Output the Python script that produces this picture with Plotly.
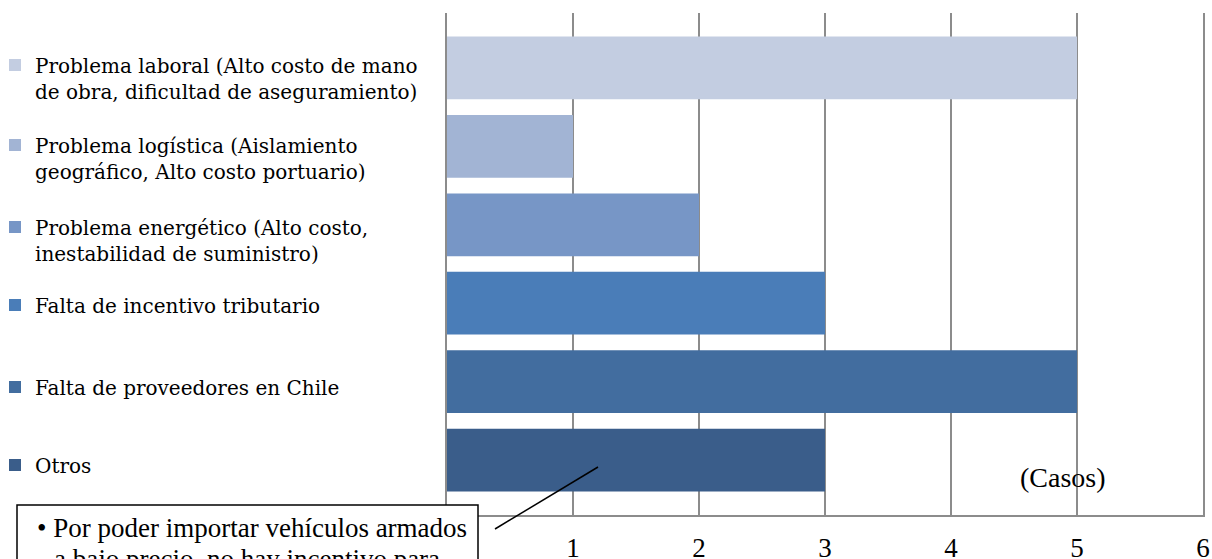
import plotly.graph_objects as go

# ---- data ----
categories = [
    "Problema laboral (Alto costo de mano<br>de obra, dificultad de aseguramiento)",
    "Problema logística (Aislamiento<br>geográfico, Alto costo portuario)",
    "Problema energético (Alto costo,<br>inestabilidad de suministro)",
    "Falta de incentivo tributario",
    "Falta de proveedores en Chile",
    "Otros",
]
values = [5, 1, 2, 3, 5, 3]
colors = ["#C3CDE1", "#A2B4D4", "#7796C6", "#4A7DB8", "#426D9F", "#3A5D8A"]
tick_vals = [0, 1, 2, 3, 4, 5, 6]
tick_text = ["", "1", "2", "3", "4", "5", "6"]
unit_label = "(Casos)"
note_line1 = "• Por poder importar vehículos armados"
note_line2 = "a bajo precio, no hay incentivo para"

W, H = 1212, 559
ML, MR, MT, MB = 447, 9, 13, 44
legend_tops = [45.5, 125.5, 207.5, 285.5, 367.5, 445.5]  # pixel tops of legend entries
legend_left = -5  # pixel left of legend boxes


def px_x(p):
    return (p - ML) / (W - ML - MR)


def px_y(p):
    return (H - MB - p) / (H - MT - MB)


fig = go.Figure()
legend_ids = ["legend"] + [f"legend{i}" for i in range(2, len(categories) + 1)]
for name, val, col, lid in zip(categories, values, colors, legend_ids):
    fig.add_trace(go.Bar(
        x=[val], y=[name], orientation="h", name=name,
        marker=dict(color=col, line=dict(width=0)),
        width=0.8, legend=lid, hoverinfo="x+name",
    ))

layout_legends = {}
for lid, top in zip(legend_ids, legend_tops):
    layout_legends[lid] = dict(
        x=px_x(legend_left), xref="paper", xanchor="left",
        y=1 - top / H, yref="container", yanchor="top",
        valign="top", bgcolor="rgba(0,0,0,0)", borderwidth=0,
        font=dict(family="DejaVu Serif", size=20, color="#000000"),
        itemclick=False, itemdoubleclick=False,
    )

grid_col = "#8c8c8c"
fig.update_layout(
    width=W, height=H,
    margin=dict(l=ML, r=MR, t=MT, b=MB, autoexpand=False),
    plot_bgcolor="white", paper_bgcolor="white",
    barmode="overlay", showlegend=True,
    xaxis=dict(
        range=[0, 6], tickvals=tick_vals, ticktext=tick_text,
        showgrid=True, gridcolor=grid_col, gridwidth=1.5,
        zeroline=False, showline=True, linecolor=grid_col, linewidth=1.5,
        ticks="", ticklabelstandoff=8,
        tickfont=dict(family="Liberation Serif", size=27, color="#000000"),
        fixedrange=True,
    ),
    yaxis=dict(
        type="category", categoryorder="array", categoryarray=categories[::-1],
        range=[-0.7, 5.7], showticklabels=False, showgrid=False,
        zeroline=False, showline=True, mirror=True,
        linecolor=grid_col, linewidth=1.5, ticks="", fixedrange=True,
    ),
    **layout_legends,
)

# unit label inside plot
fig.add_annotation(
    text=unit_label, xref="paper", yref="paper", x=px_x(1063), y=px_y(477),
    showarrow=False, xanchor="center", yanchor="middle",
    font=dict(family="Liberation Serif", size=28, color="#000000"),
)

# callout box with pointer
fig.add_shape(
    type="rect", xref="paper", yref="paper",
    x0=px_x(17), x1=px_x(478), y0=px_y(600), y1=px_y(505),
    line=dict(color="#000000", width=1.5), fillcolor="white", layer="above",
)
fig.add_shape(
    type="line", xref="paper", yref="paper",
    x0=px_x(495), y0=px_y(529), x1=px_x(598), y1=px_y(467),
    line=dict(color="#000000", width=1.5), layer="above",
)
fig.add_annotation(
    text=note_line1, xref="paper", yref="paper", x=px_x(35), y=px_y(528),
    showarrow=False, xanchor="left", yanchor="middle",
    font=dict(family="Liberation Serif", size=27, color="#000000"),
)
fig.add_annotation(
    text=note_line2, xref="paper", yref="paper", x=px_x(52), y=px_y(559),
    showarrow=False, xanchor="left", yanchor="middle",
    font=dict(family="Liberation Serif", size=27, color="#000000"),
)

fig.write_html(
    "out.html",
    config={"displayModeBar": False},
    post_script="document.body.style.margin='0';",
)
